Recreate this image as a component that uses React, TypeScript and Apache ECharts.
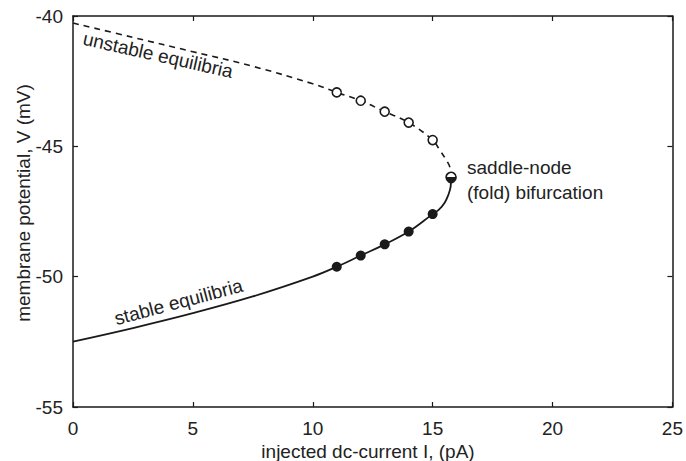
import React, { useEffect, useRef } from "react";
import * as echarts from "echarts";

// Curve readings (injected current I in pA, membrane potential V in mV)
const unstableI = [0, 2.5, 5, 7.5, 10, 11, 12, 13, 14, 15, 15.3, 15.55, 15.72, 15.77];
const unstableV = [-40.27, -40.82, -41.37, -41.93, -42.6, -42.93, -43.25, -43.67, -44.09, -44.76, -45.15, -45.5, -45.8, -46.19];
const stableI = [0, 2.5, 5, 7.5, 10, 11, 12, 13, 14, 15, 15.25, 15.5, 15.65, 15.75, 15.77];
const stableV = [-52.49, -51.97, -51.4, -50.76, -50.0, -49.62, -49.19, -48.76, -48.27, -47.6, -47.44, -47.16, -46.87, -46.55, -46.19];

// Marker readings
const markerI = [11, 12, 13, 14, 15];
const unstableMarkV = [-42.93, -43.25, -43.67, -44.09, -44.76];
const stableMarkV = [-49.62, -49.19, -48.76, -48.27, -47.6];
const foldI = [15.77];
const foldV = [-46.19];

const xTicks = [0, 25, 5];
const yTicks = [-55, -40, 5];

const FONT = "Liberation Sans, Arial, Helvetica, sans-serif";
const INK = "#1a1a1a";

export default function App() {
  const ref = useRef<HTMLDivElement>(null);
  useEffect(() => {
    if (!ref.current) return;
    const chart = echarts.init(ref.current, undefined, { renderer: "svg" });
    const pair = (xs: number[], ys: number[]) => xs.map((x, i) => [x, ys[i]]);
    const axisLine = { show: true, onZero: false, lineStyle: { color: INK, width: 1.5 } };
    const axisTick = { show: true, inside: true, length: 5, lineStyle: { color: INK, width: 1.2 } };
    const label = { fontSize: 19, color: "#222", fontFamily: FONT };
    chart.setOption({
      animation: false,
      backgroundColor: "#fff",
      grid: { left: 73, right: 10.5, top: 16, bottom: 54, containLabel: false },
      xAxis: [
        {
          type: "value", min: xTicks[0], max: xTicks[1], interval: xTicks[2], position: "bottom",
          axisLine, axisTick, splitLine: { show: false },
          axisLabel: { ...label, margin: 12 },
        },
        {
          type: "value", min: xTicks[0], max: xTicks[1], interval: xTicks[2], position: "top",
          axisLine, axisTick, splitLine: { show: false }, axisLabel: { show: false },
        },
      ],
      yAxis: [
        {
          type: "value", min: yTicks[0], max: yTicks[1], interval: yTicks[2], position: "left",
          axisLine, axisTick, splitLine: { show: false },
          axisLabel: { ...label, margin: 10 },
        },
        {
          type: "value", min: yTicks[0], max: yTicks[1], interval: yTicks[2], position: "right",
          axisLine, axisTick, splitLine: { show: false }, axisLabel: { show: false },
        },
      ],
      series: [
        {
          type: "line", data: pair(unstableI, unstableV), showSymbol: false, symbol: "none",
          smooth: 0.4,
          lineStyle: { color: INK, width: 1.6, type: [6, 5] }, z: 2,
        },
        {
          type: "line", data: pair(stableI, stableV), showSymbol: false, symbol: "none",
          smooth: 0.4,
          lineStyle: { color: INK, width: 1.8, type: "solid" }, z: 2,
        },
        {
          type: "scatter", data: pair(markerI, unstableMarkV), symbol: "circle", symbolSize: 9,
          itemStyle: { color: "#fff", borderColor: INK, borderWidth: 1.6, opacity: 1 }, z: 5,
        },
        {
          type: "scatter", data: pair(markerI, stableMarkV), symbol: "circle", symbolSize: 10,
          itemStyle: { color: INK, opacity: 1 }, z: 5,
        },
        {
          type: "scatter", data: pair(foldI, foldV), symbol: "circle", symbolSize: 10,
          itemStyle: {
            color: {
              type: "linear", x: 0, y: 0, x2: 0, y2: 1,
              colorStops: [
                { offset: 0, color: "#fff" },
                { offset: 0.5, color: "#fff" },
                { offset: 0.5, color: INK },
                { offset: 1, color: INK },
              ],
            },
            borderColor: INK, borderWidth: 1.6, opacity: 1,
          },
          z: 6,
        },
      ],
      graphic: [
        {
          type: "text", x: 23, y: 203, rotation: Math.PI / 2,
          style: { text: "membrane potential, V (mV)", fontSize: 19, fontFamily: FONT, fill: "#222", align: "center", verticalAlign: "middle" },
        },
        {
          type: "text", x: 368, y: 451,
          style: { text: "injected dc-current I, (pA)", fontSize: 19, fontFamily: FONT, fill: "#222", align: "center", verticalAlign: "middle" },
        },
        {
          type: "text", x: 158, y: 55, rotation: -0.222,
          style: { text: "unstable equilibria", fontSize: 19, fontFamily: FONT, fill: "#222", align: "center", verticalAlign: "middle" },
        },
        {
          type: "text", x: 178.5, y: 302, rotation: 0.26,
          style: { text: "stable equilibria", fontSize: 19, fontFamily: FONT, fill: "#222", align: "center", verticalAlign: "middle" },
        },
        {
          type: "text", x: 467, y: 167,
          style: { text: "saddle-node", fontSize: 19, fontFamily: FONT, fill: "#222", align: "left", verticalAlign: "middle" },
        },
        {
          type: "text", x: 467, y: 192,
          style: { text: "(fold) bifurcation", fontSize: 19, fontFamily: FONT, fill: "#222", align: "left", verticalAlign: "middle" },
        },
      ],
    });
    return () => chart.dispose();
  }, []);
  return <div ref={ref} style={{ position: "fixed", left: 0, top: 0, width: 686, height: 461 }} />;
}
